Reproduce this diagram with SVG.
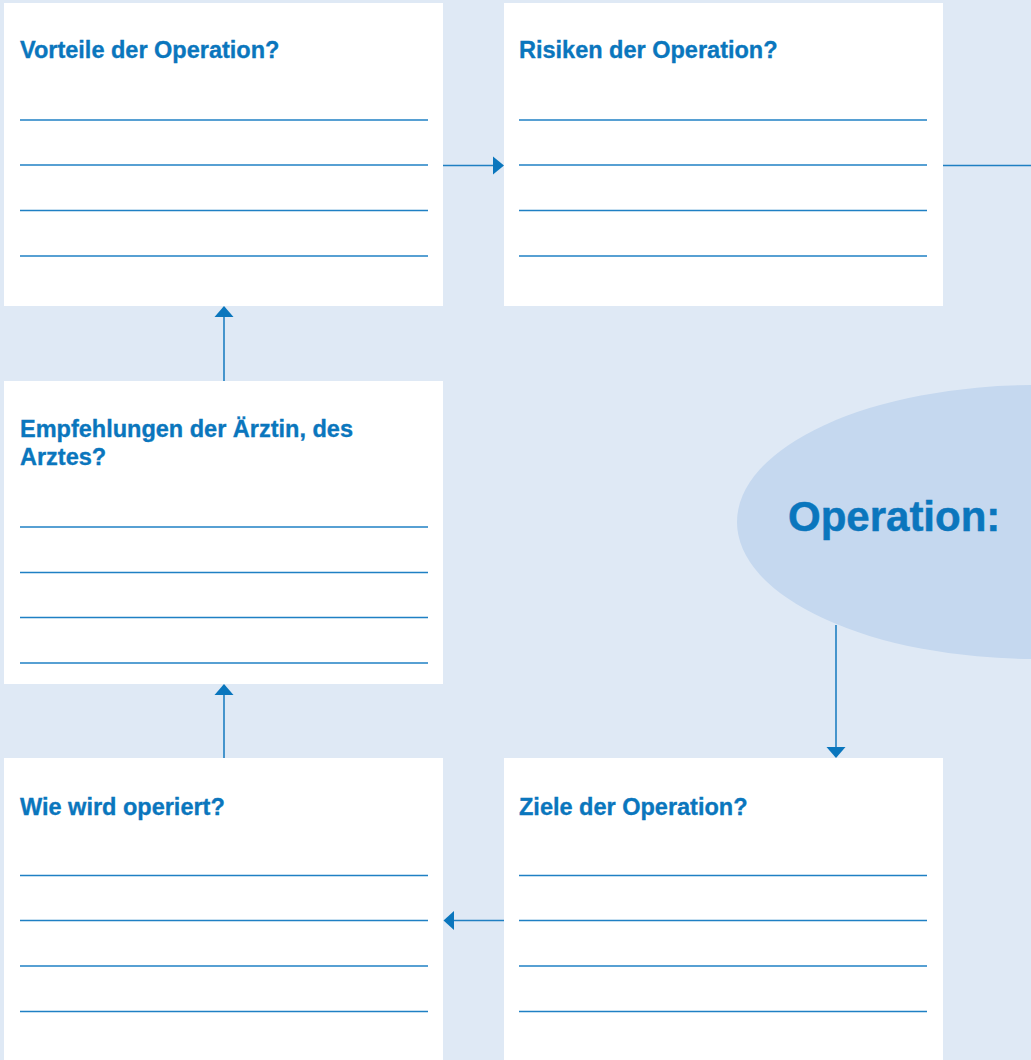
<svg xmlns="http://www.w3.org/2000/svg" width="1031" height="1060" viewBox="0 0 1031 1060">
<style>
.box{fill:#ffffff}
.t{font-family:"Liberation Sans",Arial,sans-serif;font-weight:bold;font-size:23.5px;fill:#0a76bd;stroke:#0a76bd;stroke-width:0.35}
.ln{stroke:#1f80c4;stroke-width:1.3}
.con{stroke:#1f7fc2;stroke-width:1.6;fill:none}
.head{fill:#0a76bd}
</style>
<rect x="0" y="0" width="1031" height="1060" fill="#dfe9f5"/>
<g id="ellipse-operation">
<ellipse cx="1035" cy="522" rx="298" ry="137" fill="#c5d8ef"/>
<text x="788" y="531" style="font-family:'Liberation Sans',Arial,sans-serif;font-weight:bold;font-size:42px;fill:#0a76bd;stroke:#0a76bd;stroke-width:0.5">Operation:</text>
</g>
<g id="node-vorteile">
<rect class="box" x="4" y="3" width="439" height="303"/>
<text class="t" x="20" y="58">Vorteile der Operation?</text>
<line class="ln" x1="20" y1="120" x2="428" y2="120"/>
<line class="ln" x1="20" y1="165" x2="428" y2="165"/>
<line class="ln" x1="20" y1="210.5" x2="428" y2="210.5"/>
<line class="ln" x1="20" y1="256" x2="428" y2="256"/>
</g>
<g id="node-risiken">
<rect class="box" x="504" y="3" width="439" height="303"/>
<text class="t" x="519" y="58">Risiken der Operation?</text>
<line class="ln" x1="519" y1="120" x2="927" y2="120"/>
<line class="ln" x1="519" y1="165" x2="927" y2="165"/>
<line class="ln" x1="519" y1="210.5" x2="927" y2="210.5"/>
<line class="ln" x1="519" y1="256" x2="927" y2="256"/>
</g>
<g id="node-empfehlungen">
<rect class="box" x="4" y="381" width="439" height="303"/>
<text class="t" x="20" y="437">Empfehlungen der Ärztin, des</text>
<text class="t" x="20" y="465">Arztes?</text>
<line class="ln" x1="20" y1="527" x2="428" y2="527"/>
<line class="ln" x1="20" y1="572.5" x2="428" y2="572.5"/>
<line class="ln" x1="20" y1="617.5" x2="428" y2="617.5"/>
<line class="ln" x1="20" y1="663" x2="428" y2="663"/>
</g>
<g id="node-wie">
<rect class="box" x="4" y="758" width="439" height="302"/>
<text class="t" x="20" y="815">Wie wird operiert?</text>
<line class="ln" x1="20" y1="875.5" x2="428" y2="875.5"/>
<line class="ln" x1="20" y1="920.5" x2="428" y2="920.5"/>
<line class="ln" x1="20" y1="966" x2="428" y2="966"/>
<line class="ln" x1="20" y1="1011.5" x2="428" y2="1011.5"/>
</g>
<g id="node-ziele">
<rect class="box" x="504" y="758" width="439" height="302"/>
<text class="t" x="519" y="815">Ziele der Operation?</text>
<line class="ln" x1="519" y1="875.5" x2="927" y2="875.5"/>
<line class="ln" x1="519" y1="920.5" x2="927" y2="920.5"/>
<line class="ln" x1="519" y1="966" x2="927" y2="966"/>
<line class="ln" x1="519" y1="1011.5" x2="927" y2="1011.5"/>
</g>
<g id="connectors">
<line class="con" x1="443" y1="165.5" x2="494" y2="165.5"/>
<polygon class="head" points="493,156.5 504,165.5 493,174.5"/>
<line class="con" x1="943" y1="165.5" x2="1031" y2="165.5"/>
<line class="con" x1="224" y1="381" x2="224" y2="316"/>
<polygon class="head" points="214.5,317 224,306 233.5,317"/>
<line class="con" x1="224" y1="758" x2="224" y2="694"/>
<polygon class="head" points="214.5,695 224,684 233.5,695"/>
<line class="con" x1="836" y1="625" x2="836" y2="748"/>
<polygon class="head" points="826.5,747 836,758 845.5,747"/>
<line class="con" x1="504" y1="920.5" x2="453" y2="920.5"/>
<polygon class="head" points="454,911 443.5,920.5 454,930"/>
</g>
</svg>
